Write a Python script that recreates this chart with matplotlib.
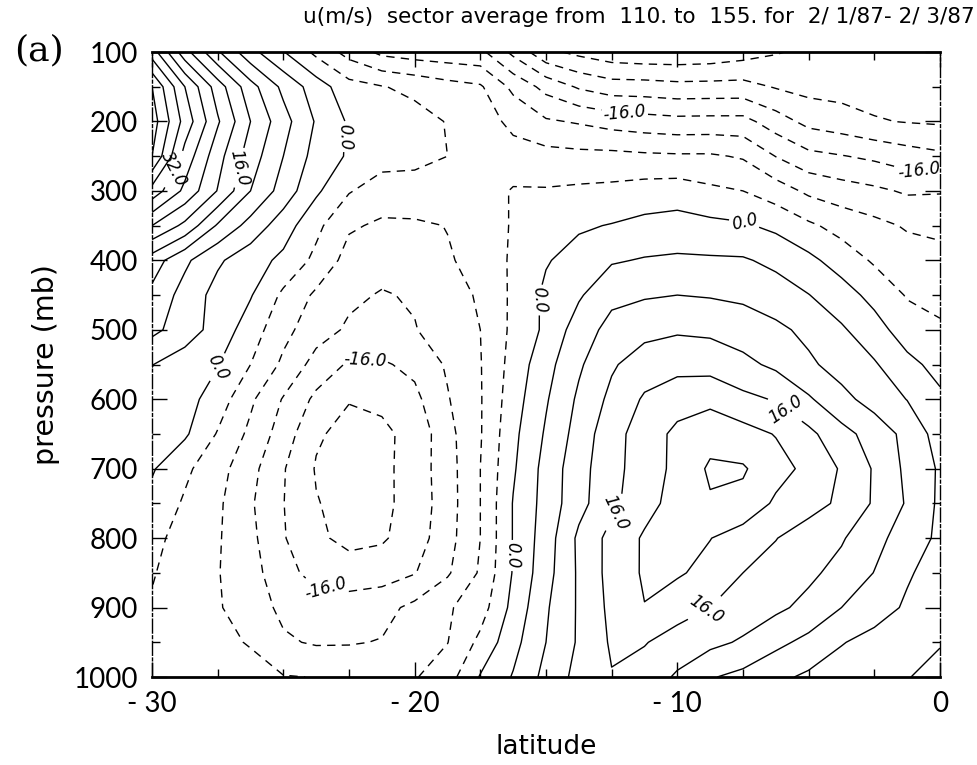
import numpy as np
import matplotlib
matplotlib.use("Agg")
import matplotlib.pyplot as plt

# sector-mean zonal wind u (m/s): rows = pressure levels, columns = latitudes
lats = [-30, -28.75, -27.5, -26.25, -25, -23.75, -22.5, -21.25, -20, -18.75,
        -17.5, -16.25, -15, -13.75, -12.5, -11.25, -10, -8.75, -7.5, -6.25,
        -5, -3.75, -2.5, -1.25, 0]
levels_mb = [100, 150, 200, 250, 300, 350, 400, 450, 500, 550,
             600, 650, 700, 750, 800, 850, 900, 950, 1000]

u = [
    # 100 mb
    [34, 21.5, 12.5, 5.3, 0.2, -5, -9.5, -13, -14, -14.5, -15, -21, -27,
     -29, -30.5, -31, -31, -30.7, -29.7, -28.3, -27.2, -26.8, -26.5, -26.2, -26],
    # 150 mb
    [44, 32, 22, 13.5, 7, 2, -2.5, -3.8, -5, -6.5, -7.5, -13, -17.3,
     -20.5, -22.2, -22.3, -22.8, -22.7, -22.6, -24.3, -25.3, -25.5, -25.5, -25.5, -25.5],
    # 200 mb
    [46, 34.5, 24.5, 16, 9.5, 3.6, -0.5, -1.5, -2.5, -4.2, -6.5, -8.8, -11.5,
     -12.4, -13.6, -14.3, -14.8, -14.7, -14.7, -18.1, -21.2, -22.3, -23.7, -24.2, -24.5],
    # 250 mb
    [44, 30.5, 21.5, 14, 8, 2.5, -0.5, -2.3, -3, -4, -6, -6.8, -6.6,
     -6.9, -6.9, -7.3, -7.5, -7.5, -8.4, -12.1, -14.9, -15.8, -16.8, -18.2, -19.2],
    # 300 mb
    [34.5, 27, 19.8, 12, 6.3, 0.7, -3.7, -6, -5.5, -6.5, -6.5, -3.6, -3.7,
     -3.3, -3, -2.3, -2, -3.2, -4, -6, -8.8, -10.2, -11.2, -12.5, -12.3],
    # 350 mb
    [24, 19, 11.5, 6.5, 1.9, -3, -7.5, -8.6, -8.6, -7.9, -6.5, -3.6, -2,
     -0.5, 0.2, 1.1, 1.6, 1.0, 0.5, -0.9, -3.3, -5.4, -6.9, -8.4, -8.9],
    # 400 mb
    [14, 8.8, 4.6, 1.7, -0.9, -5, -9.5, -10.5, -10.5, -8.3, -7, -3.3, -0.3,
     1.5, 3.6, 4.3, 4.6, 4.5, 4.4, 3.1, 1, -1.8, -4.5, -6.2, -6.8],
    # 450 mb
    [11, 6.5, 2.6, 0.3, -4.8, -8.7, -11.2, -12.3, -11.6, -9, -7.7, -3.2, 0.8,
     3.5, 7, 7.6, 8, 7.7, 7.2, 5.8, 4.1, 1.8, -1.3, -4.3, -5.2],
    # 500 mb
    [9, 6, 2.4, -2, -6.8, -10.3, -12.6, -13, -12.2, -10, -8, -3.1, 0.8,
     6, 9.3, 10.8, 11.5, 11.2, 10.2, 8.9, 7, 4.5, 1.7, -2.1, -3.4],
    # 550 mb
    [4.1, 2, 0.2, -4, -8.8, -13.5, -16.5, -16.5, -15, -11.5, -8.2, -2.5, 2.6,
     7.4, 11.5, 14, 14.8, 14.5, 13, 11.2, 8.7, 6.4, 4.4, 1.2, -1.4],
    # 600 mb
    [3, 1.5, -1.9, -7.3, -12.3, -16.9, -19.8, -19.2, -17, -12.3, -8.3, -1.8, 3.6,
     8.7, 13, 16.5, 18.2, 19, 17, 15.7, 12.5, 9.2, 6.4, 3.9, 0.8],
    # 650 mb
    [2, 0.6, -4.3, -8.9, -13.9, -19.5, -21.2, -20.8, -18.8, -13.3, -8.3, -1, 4.5,
     9.6, 14.6, 17.8, 21, 22.5, 21.5, 19.8, 17, 13.3, 10.4, 6.8, 2.3],
    # 700 mb
    [0.4, -3.2, -6.5, -10.7, -15.7, -20.3, -21.6, -21, -18.3, -13.7, -8, -0.5, 5.4,
     10.5, 14.7, 18, 21, 24.6, 24.4, 21.6, 18.9, 15.6, 11.6, 7.1, 3.5],
    # 750 mb
    [-1.2, -4.5, -7.3, -11.5, -15.9, -19.8, -21.3, -20.9, -18.5, -13.8, -8, 0.2, 5.5,
     10.7, 15, 18.6, 21.5, 23.6, 23, 19.3, 17.2, 15.4, 11.5, 7.6, 3.3],
    # 800 mb
    [-2.7, -5.8, -7.6, -11, -15.7, -19.3, -21, -20.5, -18, -13.5, -8, 0.2, 6,
     12.8, 17.3, 20.5, 21.5, 20.1, 18, 16.1, 14.4, 12.4, 9.2, 6.2, 3.2],
    # 850 mb
    [-3.7, -6, -7.8, -10.5, -14.5, -17.5, -18.3, -17.8, -16.2, -12.5, -7.5, 0.3, 6.5,
     12.6, 17.4, 20.5, 20.5, 18.7, 16, 14.8, 12.8, 10.7, 7.9, 4.4, 2.5],
    # 900 mb
    [-4.4, -6.2, -7.6, -10.2, -12.8, -13.9, -14, -13.3, -11, -8.5, -5.8, 1.2, 7.5,
     12.5, 17, 19.9, 17.5, 16, 14.2, 12.8, 10.9, 8, 5.6, 3.5, 2],
    # 950 mb
    [-5.2, -6.3, -7.3, -8.2, -11.5, -12.4, -12.3, -11.8, -9.6, -8.1, -3, 2.7, 8,
     12.5, 16.5, 16.2, 14.5, 13, 11.5, 9, 6.9, 4.2, 2.8, 1.5, 0.3],
    # 1000 mb
    [-5.5, -6, -6.3, -7, -7.8, -8.1, -8.5, -8.6, -8.3, -5.7, 0.3, 4.3, 9.2,
     13.3, 15.8, 14.5, 11.4, 8.3, 6.9, 4.9, 3.3, 2.3, 1.2, 0.2, -1.5],
]

contour_levels = np.arange(-32, 52, 4)
label_levels = [-16, 0, 16, 32]

title = "u(m/s)  sector average from  110. to  155. for  2/ 1/87- 2/ 3/87"

plt.rcParams["font.family"] = ["Lato", "DejaVu Sans"]

fig = plt.figure(figsize=(9.77, 7.65), dpi=100)
ax = fig.add_axes([0.1556, 0.115, 0.8065, 0.817])


def line_styles(lvls):
    return [(0, (6, 4.5)) if lv < 0 else "solid" for lv in lvls]


# unlabelled contours, then the labelled ones drawn separately
plain = [lv for lv in contour_levels if lv not in label_levels]
ax.contour(lats, levels_mb, u, levels=plain, colors="black",
           linewidths=1.0, linestyles=line_styles(plain))
cs = ax.contour(lats, levels_mb, u, levels=label_levels, colors="black",
                linewidths=1.0, linestyles=line_styles(label_levels))

label_spots = [(-29.1, 270), (-26.3, 270), (-22.5, 222), (-27.5, 554),
               (-12.0, 184), (-0.8, 273), (-7.4, 340), (-14.9, 457),
               (-16.3, 825), (-21.9, 558), (-23.4, 875), (-12.5, 760),
               (-5.8, 610), (-8.9, 904)]
labels = ax.clabel(cs, fmt="%.1f", fontsize=12, inline=True, inline_spacing=4,
                   manual=label_spots)
for t in labels:
    t.set_family("DejaVu Sans")
    t.set_style("italic")

ax.set_xlim(-30, 0)
ax.set_ylim(1000, 100)
ax.set_xticks([-30, -20, -10, 0])
ax.set_xticklabels(["- 30", "- 20", "- 10", "0"])
ax.set_xticks(np.arange(-30, 0.1, 2.5), minor=True)
ax.set_yticks(np.arange(100, 1001, 100))
ax.set_yticks(np.arange(100, 1001, 50), minor=True)
ax.tick_params(which="both", direction="in", top=True, right=True,
               labelsize=20, pad=10, width=1.0)
ax.tick_params(which="major", length=11)
ax.tick_params(which="minor", length=6)
for side in ["top", "bottom"]:
    ax.spines[side].set_linewidth(2.0)
for side in ["left", "right"]:
    ax.spines[side].set_linewidth(1.0)
    ax.spines[side].set_linestyle((0, (10, 2, 2, 2)))

ax.set_xlabel("latitude", fontsize=19, labelpad=12, family="DejaVu Sans")
ax.set_ylabel("pressure (mb)", fontsize=20.5, labelpad=10, family="DejaVu Sans")

fig.text(0.998, 0.978, title, ha="right", va="center", fontsize=15.5,
         family="DejaVu Sans")
fig.text(0.014, 0.934, "(a)", ha="left", va="center", fontsize=26,
         family="DejaVu Serif")

fig.savefig("out.png", dpi=100)
